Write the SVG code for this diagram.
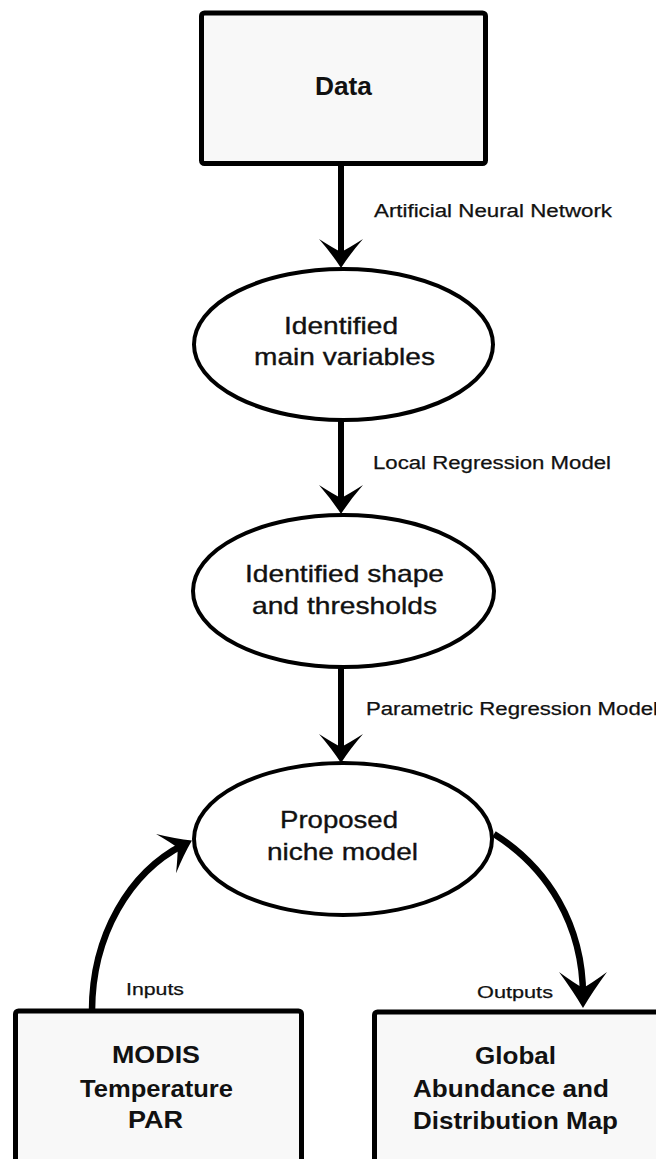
<svg xmlns="http://www.w3.org/2000/svg" width="656" height="1159" viewBox="0 0 656 1159">
<style>
.box{fill:#f8f8f8;stroke:#000;stroke-width:5;}
.ell{fill:#fff;stroke:#000;stroke-width:4;}
.t{font-family:"Liberation Sans",Arial,sans-serif;fill:#111;}
.big{font-size:24px;stroke:#111;stroke-width:0.35;}
.lbl{font-size:18px;stroke:#111;stroke-width:0.25;}
.sm{font-size:17px;stroke:#111;stroke-width:0.25;}
.bx{font-size:23px;font-weight:bold;}
.data{font-size:26px;font-weight:bold;}
.conn{fill:none;stroke:#000;stroke-width:6;}
.arc{fill:none;stroke:#000;stroke-width:6.5;}
</style>
<defs>
<marker id="ah" markerUnits="userSpaceOnUse" viewBox="-30 -23 31 46" markerWidth="31" markerHeight="46" refX="-10" refY="0" orient="auto" overflow="visible">
<path d="M0,0 Q-14,-9 -29,-22 Q-20,-8 -16,0 Q-20,8 -29,22 Q-14,9 0,0 Z" fill="#000"/>
</marker>
<marker id="ah2" markerUnits="userSpaceOnUse" viewBox="-37 -25 38 50" markerWidth="38" markerHeight="50" refX="-12" refY="0" orient="auto" overflow="visible">
<path d="M0,0 Q-17,-10 -36,-24 Q-25,-9 -20,0 Q-25,9 -36,24 Q-17,10 0,0 Z" fill="#000"/>
</marker>
</defs>
<rect width="656" height="1159" fill="#fff"/>
<g id="connectors">
<line class="conn" x1="341" y1="165" x2="341" y2="258" marker-end="url(#ah)"/>
<line class="conn" x1="341" y1="421" x2="341" y2="504" marker-end="url(#ah)"/>
<line class="conn" x1="341" y1="668" x2="341" y2="753" marker-end="url(#ah)"/>
<path class="arc" d="M92,1011 C92,935 130,872 183,845" marker-end="url(#ah)"/>
<path class="arc" d="M494,834 C548,868 583,925 583,996" marker-end="url(#ah2)"/>
</g>
<g id="node-data">
<rect class="box" x="201.5" y="13" width="284" height="150.5" rx="3"/>
<text class="t data" x="315" y="95" textLength="57" lengthAdjust="spacingAndGlyphs">Data</text>
</g>
<g id="node-variables">
<ellipse class="ell" cx="343.5" cy="344.5" rx="149.5" ry="75.5"/>
<text class="t big" x="284" y="334" textLength="114" lengthAdjust="spacingAndGlyphs">Identified</text>
<text class="t big" x="254" y="365" textLength="181" lengthAdjust="spacingAndGlyphs">main variables</text>
</g>
<g id="node-shape">
<ellipse class="ell" cx="343.5" cy="591" rx="150.5" ry="76"/>
<text class="t big" x="245" y="582" textLength="199" lengthAdjust="spacingAndGlyphs">Identified shape</text>
<text class="t big" x="252" y="614" textLength="185" lengthAdjust="spacingAndGlyphs">and thresholds</text>
</g>
<g id="node-niche">
<ellipse class="ell" cx="343" cy="839" rx="149" ry="76"/>
<text class="t big" x="280" y="828" textLength="118" lengthAdjust="spacingAndGlyphs">Proposed</text>
<text class="t big" x="267" y="860" textLength="151" lengthAdjust="spacingAndGlyphs">niche model</text>
</g>
<g id="node-inputs">
<rect class="box" x="15.5" y="1011" width="286" height="170" rx="3"/>
<text class="t bx" x="112" y="1063" textLength="88" lengthAdjust="spacingAndGlyphs">MODIS</text>
<text class="t bx" x="80" y="1097" textLength="153" lengthAdjust="spacingAndGlyphs">Temperature</text>
<text class="t bx" x="128" y="1128" textLength="55" lengthAdjust="spacingAndGlyphs">PAR</text>
</g>
<g id="node-outputs">
<rect class="box" x="374.5" y="1012" width="320" height="170" rx="3"/>
<text class="t bx" x="475" y="1064" textLength="81" lengthAdjust="spacingAndGlyphs">Global</text>
<text class="t bx" x="413" y="1097" textLength="196" lengthAdjust="spacingAndGlyphs">Abundance and</text>
<text class="t bx" x="413" y="1129" textLength="205" lengthAdjust="spacingAndGlyphs">Distribution Map</text>
</g>
<g id="labels">
<text class="t lbl" x="374" y="217" textLength="238" lengthAdjust="spacingAndGlyphs">Artificial Neural Network</text>
<text class="t lbl" x="373" y="469" textLength="238" lengthAdjust="spacingAndGlyphs">Local Regression Model</text>
<text class="t lbl" x="366" y="715" textLength="292" lengthAdjust="spacingAndGlyphs">Parametric Regression Model</text>
<text class="t sm" x="126" y="995" textLength="58" lengthAdjust="spacingAndGlyphs">Inputs</text>
<text class="t sm" x="477" y="998" textLength="76" lengthAdjust="spacingAndGlyphs">Outputs</text>
</g>
</svg>
